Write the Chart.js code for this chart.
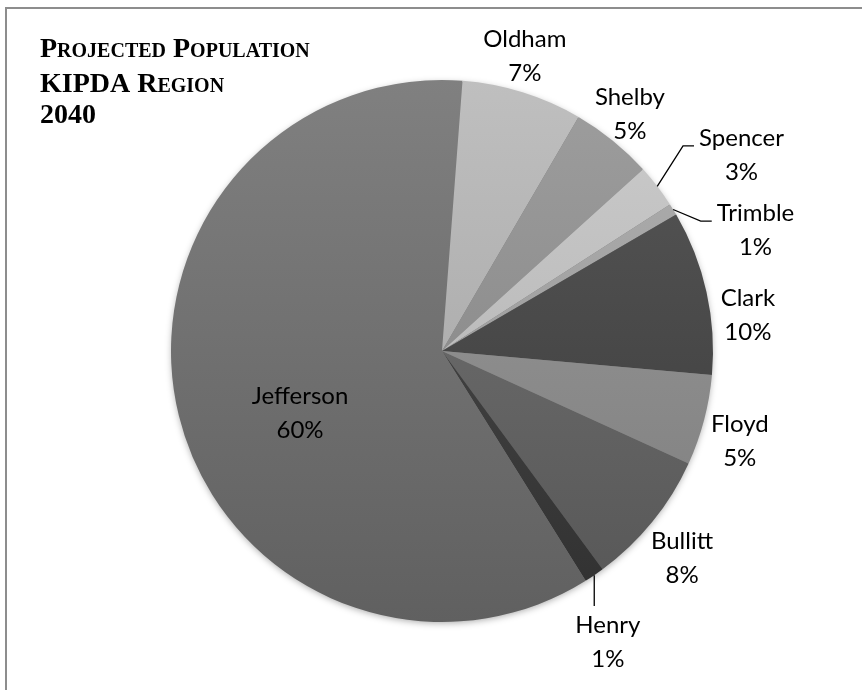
<!DOCTYPE html>
<html>
<head>
<meta charset="utf-8">
<title>Projected Population KIPDA Region 2040</title>
<script src="https://cdn.jsdelivr.net/npm/chart.js@4.4.1/dist/chart.umd.min.js"></script>
<style>
  html, body { margin: 0; padding: 0; background: #fff; }
  #wrap { width: 862px; height: 690px; position: relative; }
  canvas { display: block; }
</style>
</head>
<body>
<div id="wrap"><canvas id="popChart" width="862" height="690"></canvas></div>
<script>
// County shares of the 2040 regional population (percent), in series order
const counties = ['Bullitt', 'Henry', 'Jefferson', 'Oldham', 'Shelby', 'Spencer', 'Trimble', 'Clark', 'Floyd'];
const shares   = [8.1, 1.2, 60.1, 7.2, 4.9, 2.6, 0.7, 9.8, 5.4];

// slice greys (value at the pie's vertical middle; a soft top-to-bottom shade is applied)
const sliceGrey = [0x66, 0x40, 0x70, 0xaf, 0x8e, 0xbc, 0xa0, 0x48, 0x8c];

const titleLines = ['Projected Population', 'KIPDA Region', '2040'];

// where each label sits: angle shift (deg) from the slice middle, distance past the rim (px)
const labelLayout = {
  Jefferson: { shift: -9.8, dist: -116 },
  Oldham:    { shift: -1.6, dist: 35 },
  Shelby:    { shift: -0.6, dist: 31 },
  Spencer:   { shift: 4.2,  dist: 87, leader: true },
  Trimble:   { shift: 10.4, dist: 65, leader: true },
  Clark:     { shift: 5.9,  dist: 37 },
  Floyd:     { shift: 2.0,  dist: 40 },
  Bullitt:   { shift: 1.7,  dist: 46 },
  Henry:     { shift: 4.5,  dist: 64, leader: true },
};

const LABEL_FONT = '24px Lato';
const LINE_GAP = 34;

function grey(v) {
  v = Math.max(0, Math.min(255, Math.round(v)));
  return `rgb(${v},${v},${v})`;
}

function sliceFill(ctx) {
  const chart = ctx.chart;
  const area = chart.chartArea;
  const base = sliceGrey[ctx.dataIndex];
  if (!area) return grey(base);
  const g = chart.ctx.createLinearGradient(0, area.top, 0, area.bottom);
  g.addColorStop(0, grey(base + 16));
  g.addColorStop(1, grey(base - 16));
  return g;
}

// frame + title in the top-left corner
const frameAndTitle = {
  id: 'frameAndTitle',
  afterDraw(chart) {
    const ctx = chart.ctx;
    ctx.save();
    ctx.strokeStyle = '#8d8d8d';
    ctx.lineWidth = 2;
    ctx.beginPath();
    ctx.moveTo(6, chart.height);
    ctx.lineTo(6, 8);
    ctx.lineTo(chart.width, 8);
    ctx.stroke();

    ctx.fillStyle = '#000';
    ctx.textAlign = 'left';
    ctx.textBaseline = 'alphabetic';
    ctx.font = 'small-caps bold 28px "Liberation Serif"';
    if ('fontVariantCaps' in ctx) ctx.fontVariantCaps = 'small-caps';
    const baselines = [57, 92, 123];
    titleLines.forEach((t, i) => ctx.fillText(t, 40, baselines[i]));
    ctx.restore();
  }
};

// soft drop shadow under the whole pie
const pieShadow = {
  id: 'pieShadow',
  beforeDatasetsDraw(chart) {
    const arc = chart.getDatasetMeta(0).data[0];
    if (!arc) return;
    const { x, y, outerRadius } = arc.getProps(['x', 'y', 'outerRadius'], true);
    const ctx = chart.ctx;
    ctx.save();
    ctx.shadowColor = 'rgba(0,0,0,0.35)';
    ctx.shadowBlur = 7;
    ctx.shadowOffsetY = 2;
    ctx.fillStyle = '#777';
    ctx.beginPath();
    ctx.arc(x, y, outerRadius - 1, 0, Math.PI * 2);
    ctx.fill();
    ctx.restore();
  }
};

// two-line "name / percent" labels, with leader lines for the thin slices
const sliceLabels = {
  id: 'sliceLabels',
  afterDatasetsDraw(chart) {
    const meta = chart.getDatasetMeta(0);
    const data = chart.data.datasets[0].data;
    const total = data.reduce((a, b) => a + b, 0);
    const ctx = chart.ctx;
    ctx.save();
    ctx.font = LABEL_FONT;
    ctx.fillStyle = '#000';
    ctx.strokeStyle = '#000';
    ctx.lineWidth = 1.3;
    ctx.textAlign = 'center';
    ctx.textBaseline = 'middle';

    meta.data.forEach((arc, i) => {
      const name = chart.data.labels[i];
      const lay = labelLayout[name] || { shift: 0, dist: 36 };
      const { x, y, startAngle, endAngle, outerRadius } =
        arc.getProps(['x', 'y', 'startAngle', 'endAngle', 'outerRadius'], true);
      const mid = (startAngle + endAngle) / 2;
      const a = mid + lay.shift * Math.PI / 180;
      const r = outerRadius + lay.dist;
      const cx = x + Math.cos(a) * r;
      const cy = y + Math.sin(a) * r;
      const pct = Math.round(data[i] / total * 100) + '%';
      const nameY = cy - LINE_GAP / 2;

      if (lay.leader) {
        const ex = x + Math.cos(mid) * outerRadius;
        const ey = y + Math.sin(mid) * outerRadius;
        ctx.beginPath();
        ctx.moveTo(ex, ey);
        if (Math.abs(cy - ey) > Math.abs(cx - ex)) {
          ctx.lineTo(ex, nameY - 19);
        } else {
          const w = Math.max(ctx.measureText(name).width, ctx.measureText(pct).width);
          const endX = cx - w / 2 - 5;
          const endY = nameY + 8;
          ctx.lineTo(endX - 11, endY);
          ctx.lineTo(endX, endY);
        }
        ctx.stroke();
      }

      ctx.fillText(name, cx, nameY);
      ctx.fillText(pct, cx, cy + LINE_GAP / 2);
    });
    ctx.restore();
  }
};

new Chart(document.getElementById('popChart'), {
  type: 'pie',
  data: {
    labels: counties,
    datasets: [{
      data: shares,
      backgroundColor: sliceFill,
      borderWidth: 0,
      hoverOffset: 0,
      offset: 0
    }]
  },
  options: {
    responsive: false,
    animation: false,
    events: [],
    rotation: 114.5,
    layout: { padding: { top: 80, bottom: 68, left: 171, right: 149 } },
    plugins: {
      legend: { display: false },
      tooltip: { enabled: false },
      title: { display: false }
    }
  },
  plugins: [pieShadow, sliceLabels, frameAndTitle]
});
</script>
</body>
</html>
